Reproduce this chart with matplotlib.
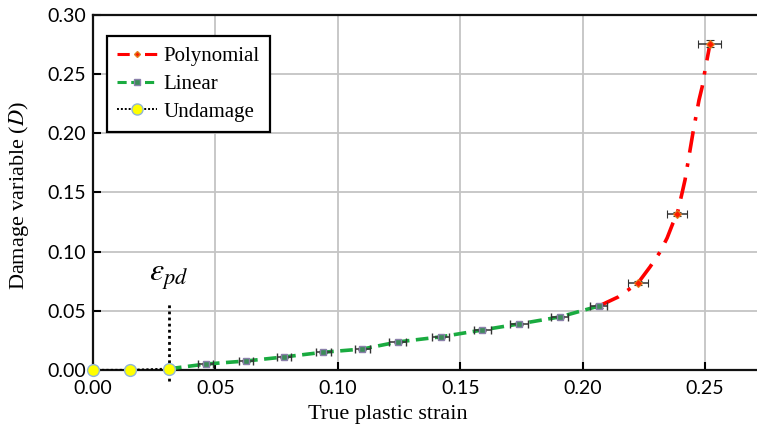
import matplotlib
matplotlib.use("Agg")
import matplotlib.pyplot as plt
from matplotlib.lines import Line2D
import numpy as np

plt.rcParams['mathtext.fontset'] = 'stix'

# undamaged region
und_x = [0.0, 0.015, 0.031]
und_y = [0.0, 0.0, 0.001]

# linear region points
lin_x = [0.031, 0.046, 0.0625, 0.078, 0.094, 0.110, 0.1245, 0.142, 0.159, 0.174, 0.1906, 0.2065]
lin_y = [0.001, 0.005, 0.0076, 0.011, 0.015, 0.0177, 0.0237, 0.028, 0.0338, 0.0389, 0.0448, 0.054]
lin_xerr = [0.0, 0.003, 0.003, 0.003, 0.003, 0.003, 0.0035, 0.0035, 0.0035, 0.0035, 0.0035, 0.0035]
lin_yerr = [0.0, 0.001, 0.001, 0.001, 0.001, 0.001, 0.001, 0.001, 0.001, 0.001, 0.001, 0.0015]

# polynomial region points
poly_x = [0.2226, 0.2386, 0.2518]
poly_y = [0.0735, 0.1319, 0.2756]
poly_xerr = [0.004, 0.004, 0.0045]
poly_yerr = [0.002, 0.002, 0.003]

# polynomial curve
curve_x = [0.2067, 0.2145, 0.2226, 0.2275, 0.2316, 0.2345, 0.2369, 0.2386, 0.2406,
           0.2418, 0.2451, 0.2475, 0.2488, 0.2500, 0.2520]
curve_y = [0.0541, 0.0617, 0.0735, 0.0871, 0.0997, 0.1116, 0.1243, 0.1319, 0.1496,
           0.1606, 0.2012, 0.2280, 0.2392, 0.2536, 0.2756]

eps_pd = 0.031

fig = plt.figure(figsize=(7.57, 4.34), dpi=100)
ax = fig.add_axes([0.1229, 0.1475, 0.8771, 0.818])

ax.grid(True, color='#c4c4c4', lw=1.3)
ax.set_axisbelow(True)

# curves
ax.plot(curve_x, curve_y, color='#ff0000', ls=(0, (6, 3, 1, 3)), lw=2.6, zorder=3)
ax.plot(lin_x, lin_y, color='#1aab40', ls=(0, (3.5, 1.8)), lw=2.6, zorder=3)
ax.plot(und_x, und_y, color='black', ls=(0, (1, 1)), lw=1.6, zorder=3)

# error bars
ax.errorbar(lin_x[1:], lin_y[1:], xerr=lin_xerr[1:], yerr=lin_yerr[1:], fmt='s',
            ms=4.5, mfc='#3c8c5a', mec='#8a80aa', mew=1.0, ecolor='#333333',
            elinewidth=1.1, capsize=3, capthick=1.1, zorder=4)
ax.errorbar(poly_x, poly_y, xerr=poly_xerr, yerr=poly_yerr, fmt='D',
            ms=4, mfc='#ff1a00', mec='#e08020', mew=0.8, ecolor='#333333',
            elinewidth=1.1, capsize=3, capthick=1.1, zorder=4)
ax.plot(und_x, und_y, 'o', ms=8.5, mfc='#ffff00', mec='#8fb4d8', mew=1.0,
        zorder=6, clip_on=False)

# epsilon_pd marker
ax.plot([eps_pd, eps_pd], [-0.009, 0.0575], color='black', ls=(0, (1, 1.2)),
        lw=2.0, zorder=5, clip_on=False)
ax.text(eps_pd, 0.066, r'$\varepsilon_{pd}$', fontsize=23, ha='center', va='bottom')

ax.set_xlim(0, 0.2712)
ax.set_ylim(0, 0.30)
ax.set_xticks(np.arange(0, 0.26, 0.05))
ax.set_yticks(np.arange(0, 0.31, 0.05))
ax.set_xticklabels(['%.2f' % v for v in np.arange(0, 0.26, 0.05)])
ax.set_yticklabels(['%.2f' % v for v in np.arange(0, 0.31, 0.05)])
ax.tick_params(direction='in', length=6, width=1.5, labelsize=14, color='black')
ax.tick_params(axis='x', pad=7)
ax.tick_params(axis='y', pad=5)
for lab in ax.get_xticklabels() + ax.get_yticklabels():
    lab.set_fontfamily('Lato')

for s in ['left', 'bottom', 'top']:
    ax.spines[s].set_linewidth(1.6)
    ax.spines[s].set_color('#111111')
ax.spines['right'].set_visible(False)

ax.set_xlabel('True plastic strain', fontsize=16, fontfamily='Liberation Serif')
ax.xaxis.set_label_coords(0.444, -0.1)
ax.set_ylabel(r'Damage variable ($\mathit{D}$)', fontsize=16, fontfamily='Liberation Serif')
ax.yaxis.set_label_coords(-0.093, 0.49)

handles = [
    Line2D([], [], color='#ff0000', ls=(0, (4, 2, 1, 2)), lw=2.2, marker='D', ms=3,
           mfc='#ff1a00', mec='#e08020', markevery=[1]),
    Line2D([], [], color='#1aab40', ls=(0, (3, 1.5)), lw=2.2, marker='s', ms=4,
           mfc='#3c8c5a', mec='#8a80aa', markevery=[1]),
    Line2D([], [], color='black', ls=(0, (1, 1)), lw=1.4, marker='o', ms=8,
           mfc='#ffff00', mec='#8fb4d8', markevery=[1]),
]
leg = ax.legend(handles, ['Polynomial', 'Linear', 'Undamage'], loc='upper left',
                bbox_to_anchor=(0.021, 0.941), borderaxespad=0, fancybox=False,
                edgecolor='black', framealpha=1, handlelength=1.9, handletextpad=0.3,
                prop={'family': 'Liberation Serif', 'size': 15}, borderpad=0.5,
                labelspacing=0.4)
leg.get_frame().set_linewidth(1.6)

fig.savefig('out.png', dpi=100)
